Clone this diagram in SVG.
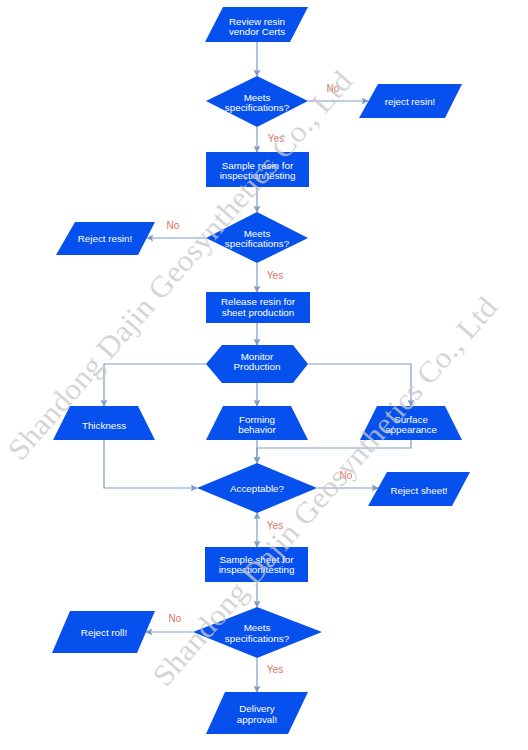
<svg xmlns="http://www.w3.org/2000/svg" width="528" height="750" viewBox="0 0 528 750">
<defs>
<style>
.shape{fill:#0651EE;stroke:none}
.t{font-family:"Liberation Sans",Arial,sans-serif;font-size:9.8px;fill:#ffffff;text-anchor:middle}
.lbl{font-family:"Liberation Sans",Arial,sans-serif;font-size:10px;fill:#E2725E;text-anchor:middle}
.e{fill:none;stroke:#7F9CC6;stroke-width:1.2}
.wm{font-family:"Liberation Serif","Times New Roman",serif;font-size:30px;fill:#C8C8C8;fill-opacity:0.75}
</style>
<marker id="arr" viewBox="0 0 10 10" refX="9" refY="5" markerWidth="7" markerHeight="7" markerUnits="userSpaceOnUse" orient="auto-start-reverse">
<path d="M0,0 L10,5 L0,10 L2,5 z" fill="#7F9CC6"/>
</marker>
</defs>
<rect width="528" height="750" fill="#ffffff"/>

<g id="connectors">
<path class="e" d="M257,42 V76" marker-end="url(#arr)"/>
<path class="e" d="M308,101 H368" marker-end="url(#arr)"/>
<path class="e" d="M257,127 V152" marker-end="url(#arr)"/>
<path class="e" d="M257,187 V212" marker-end="url(#arr)"/>
<path class="e" d="M206,238 H147" marker-end="url(#arr)"/>
<path class="e" d="M257,263 V292" marker-end="url(#arr)"/>
<path class="e" d="M257,323 V345" marker-end="url(#arr)"/>
<path class="e" d="M206,364 H104 V406" marker-end="url(#arr)"/>
<path class="e" d="M257,383 V406" marker-end="url(#arr)"/>
<path class="e" d="M308,364 H411 V406" marker-end="url(#arr)"/>
<path class="e" d="M104,440 V488 H197" marker-end="url(#arr)"/>
<path class="e" d="M257,440 V463" marker-end="url(#arr)"/>
<path class="e" d="M411,440 V448 H257 V463" marker-end="url(#arr)"/>
<path class="e" d="M317,488 H378" marker-end="url(#arr)"/>
<path class="e" d="M257,513 V547" marker-start="url(#arr)" marker-end="url(#arr)"/>
<path class="e" d="M257,582 V607" marker-end="url(#arr)"/>
<path class="e" d="M193,632 H146" marker-end="url(#arr)"/>
<path class="e" d="M257,658 V692" marker-end="url(#arr)"/>
<text class="lbl" x="333" y="92">No</text>
<text class="lbl" x="276" y="142">Yes</text>
<text class="lbl" x="173" y="229">No</text>
<text class="lbl" x="275" y="279">Yes</text>
<text class="lbl" x="346" y="479">No</text>
<text class="lbl" x="275" y="529">Yes</text>
<text class="lbl" x="175" y="622">No</text>
<text class="lbl" x="275" y="673">Yes</text>
</g>

<g id="review">
<polygon class="shape" points="223,7 308,7 290,42 205,42"/>
<text class="t" x="257" y="24.5">Review resin</text>
<text class="t" x="257" y="35">vendor Certs</text>
</g>
<g id="meets1">
<polygon class="shape" points="257,76 308,101 257,127 206,101"/>
<text class="t" x="257" y="100.5">Meets</text>
<text class="t" x="257" y="111">specifications?</text>
</g>
<g id="reject1">
<polygon class="shape" points="378,84 462,84 445,118 359,118"/>
<text class="t" x="410" y="104.5">reject resin!</text>
</g>
<g id="sample-resin">
<rect class="shape" x="206" y="152" width="103" height="35"/>
<text class="t" x="257.5" y="168.5">Sample resin for</text>
<text class="t" x="257.5" y="178.5">inspection/testing</text>
</g>
<g id="meets2">
<polygon class="shape" points="257,212 308,238 257,263 206,238"/>
<text class="t" x="257" y="236.5">Meets</text>
<text class="t" x="257" y="247">specifications?</text>
</g>
<g id="reject2">
<polygon class="shape" points="75,222 155,222 138,255 56,255"/>
<text class="t" x="105" y="242">Reject resin!</text>
</g>
<g id="release">
<rect class="shape" x="206" y="292" width="104" height="31"/>
<text class="t" x="258" y="304.5">Release resin for</text>
<text class="t" x="258" y="315.5">sheet production</text>
</g>
<g id="monitor">
<polygon class="shape" points="206,364 222,345 293,345 308,364 293,383 222,383"/>
<text class="t" x="257" y="359.5">Monitor</text>
<text class="t" x="257" y="370">Production</text>
</g>
<g id="thickness">
<polygon class="shape" points="70,406 138,406 155,440 53,440"/>
<text class="t" x="104" y="428.5">Thickness</text>
</g>
<g id="forming">
<polygon class="shape" points="223,406 291,406 308,440 206,440"/>
<text class="t" x="257" y="422.5">Forming</text>
<text class="t" x="257" y="433">behavior</text>
</g>
<g id="surface">
<polygon class="shape" points="377,406 445,406 462,440 360,440"/>
<text class="t" x="411" y="422.5">Surface</text>
<text class="t" x="411" y="433">appearance</text>
</g>
<g id="acceptable">
<polygon class="shape" points="257,463 317,488 257,513 197,488"/>
<text class="t" x="257" y="491.5">Acceptable?</text>
</g>
<g id="reject-sheet">
<polygon class="shape" points="387,472 470,472 452,506 368,506"/>
<text class="t" x="419" y="493.5">Reject sheet!</text>
</g>
<g id="sample-sheet">
<rect class="shape" x="205" y="547" width="103" height="35"/>
<text class="t" x="256.5" y="562.5">Sample sheet for</text>
<text class="t" x="256.5" y="572.5">inspection/testing</text>
</g>
<g id="meets3">
<polygon class="shape" points="257,607 322,632 257,658 193,632"/>
<text class="t" x="257" y="630.5">Meets</text>
<text class="t" x="257" y="641.5">specifications?</text>
</g>
<g id="reject-roll">
<polygon class="shape" points="70,611 155,611 137,653 52,653"/>
<text class="t" x="104" y="636">Reject roll!</text>
</g>
<g id="delivery">
<polygon class="shape" points="225,692 308,692 288,734 206,734"/>
<text class="t" x="257" y="711.5">Delivery</text>
<text class="t" x="257" y="722.5">approval!</text>
</g>

<g id="watermarks">
<text class="wm" x="0" y="0" textLength="505" lengthAdjust="spacingAndGlyphs" transform="translate(21,462) rotate(-48.8)">Shandong Dajin Geosynthetics Co., Ltd</text>
<text class="wm" x="0" y="0" textLength="505" lengthAdjust="spacingAndGlyphs" transform="translate(166,688) rotate(-48.8)">Shandong Dajin Geosynthetics Co., Ltd</text>
</g>
</svg>
